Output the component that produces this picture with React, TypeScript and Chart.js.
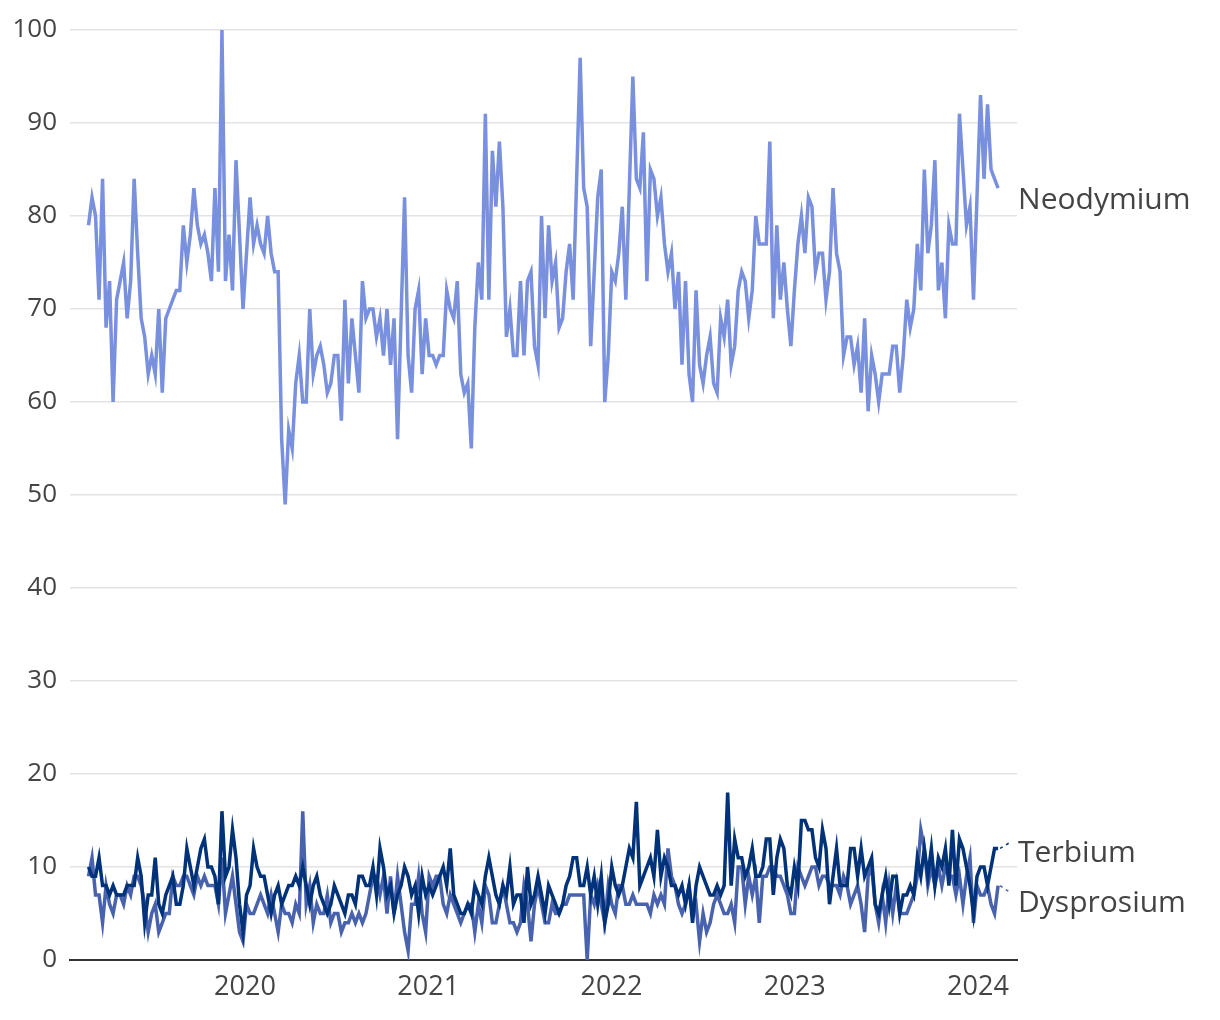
import { useEffect, useRef } from "react";
import { Chart, registerables } from "chart.js";

Chart.register(...registerables);

// Weekly observations, starting late February 2019 (decimal years on the x axis)
const START_YEAR = 2019.146;
const WEEK = 7 / 365.25;

const yearTicks = [2020, 2021, 2022, 2023, 2024];
const valueTicks = [0, 10, 20, 30, 40, 50, 60, 70, 80, 90, 100];
const seriesNames = ["Neodymium", "Terbium", "Dysprosium"];
const seriesColors = ["#7890de", "#00327a", "#4862ad"];

const neodymium = [
  79, 82, 80, 71, 84, 68, 73, 60, 71, 73,
  75, 69, 73, 84, 76, 69, 67, 63, 65, 63,
  70, 61, 69, 70, 71, 72, 72, 79, 75, 78,
  83, 79, 77, 78, 76, 73, 83, 74, 100, 73,
  78, 72, 86, 78, 70, 76, 82, 77, 79, 77,
  76, 80, 76, 74, 74, 56, 49, 57, 55, 62,
  65, 60, 60, 70, 63, 65, 66, 64, 61, 62,
  65, 65, 58, 71, 62, 69, 65, 61, 73, 69,
  70, 70, 67, 69, 65, 70, 64, 69, 56, 69,
  82, 65, 61, 70, 72, 63, 69, 65, 65, 64,
  65, 65, 72, 70, 69, 73, 63, 61, 62, 55,
  68, 75, 71, 91, 71, 87, 81, 88, 81, 67,
  70, 65, 65, 73, 65, 73, 74, 66, 64, 80,
  69, 79, 73, 75, 68, 69, 74, 77, 71, 84,
  97, 83, 81, 66, 74, 82, 85, 60, 65, 74,
  73, 76, 81, 71, 83, 95, 84, 83, 89, 73,
  85, 84, 80, 82, 77, 74, 76, 70, 74, 64,
  73, 63, 60, 72, 64, 62, 65, 67, 62, 61,
  69, 67, 71, 64, 66, 72, 74, 73, 69, 72,
  80, 77, 77, 77, 88, 69, 79, 71, 75, 70,
  66, 72, 77, 80, 76, 82, 81, 74, 76, 76,
  71, 74, 83, 76, 74, 65, 67, 67, 64, 66,
  61, 69, 59, 65, 63, 60, 63, 63, 63, 66,
  66, 61, 65, 71, 68, 70, 77, 72, 85, 76,
  79, 86, 72, 75, 69, 79, 77, 77, 91, 85,
  79, 81, 71, 82, 93, 84, 92, 85, 84, 83,
];

const terbium = [
  10, 9, 9, 11, 8, 8, 7, 8, 7, 7,
  7, 8, 8, 8, 11, 9, 4, 7, 7, 11,
  6, 5, 7, 8, 9, 6, 6, 8, 12, 10,
  8, 10, 12, 13, 10, 10, 9, 6, 16, 9,
  10, 14, 11, 6, 3, 7, 8, 12, 10, 9,
  9, 7, 5, 7, 8, 6, 7, 8, 8, 9,
  8, 10, 8, 6, 8, 9, 7, 6, 5, 6,
  8, 7, 6, 5, 7, 7, 6, 9, 9, 8,
  8, 10, 7, 12, 10, 7, 8, 5, 7, 8,
  10, 9, 7, 8, 5, 9, 7, 8, 7, 8,
  9, 10, 8, 12, 7, 6, 5, 5, 6, 5,
  8, 7, 6, 9, 11, 9, 7, 6, 8, 7,
  10, 6, 7, 7, 4, 10, 6, 7, 9, 7,
  5, 8, 7, 6, 5, 6, 8, 9, 11, 11,
  8, 8, 10, 7, 9, 6, 9, 4, 6, 10,
  8, 7, 8, 10, 12, 11, 17, 8, 9, 10,
  11, 9, 14, 9, 11, 10, 8, 8, 7, 8,
  6, 8, 4, 8, 10, 9, 8, 7, 7, 8,
  7, 8, 18, 8, 13, 11, 11, 9, 10, 12,
  9, 9, 10, 13, 13, 7, 11, 13, 12, 8,
  7, 10, 8, 15, 15, 14, 14, 11, 10, 14,
  12, 6, 9, 12, 8, 8, 8, 12, 12, 9,
  12, 9, 10, 11, 6, 5, 7, 9, 6, 9,
  9, 5, 7, 7, 8, 7, 11, 9, 12, 9,
  12, 8, 11, 10, 12, 8, 14, 8, 13, 12,
  10, 8, 5, 9, 10, 10, 8, 10, 12, 12,
];

const dysprosium = [
  9, 11, 7, 7, 4, 8, 6, 5, 7, 7,
  6, 8, 7, 9, 9, 8, 6, 3, 5, 6,
  3, 4, 5, 5, 9, 8, 8, 9, 9, 8,
  7, 9, 8, 9, 8, 8, 8, 6, 11, 5,
  7, 9, 6, 3, 2, 6, 5, 5, 6, 7,
  6, 5, 7, 5, 3, 6, 5, 5, 4, 6,
  5, 16, 6, 8, 4, 6, 5, 5, 7, 4,
  5, 5, 3, 4, 4, 5, 4, 5, 4, 5,
  7, 9, 9, 7, 9, 5, 9, 5, 9, 6,
  3, 1, 6, 6, 9, 5, 3, 9, 8, 9,
  9, 6, 5, 7, 6, 5, 4, 5, 6, 6,
  3, 6, 4, 8, 7, 4, 4, 6, 8, 6,
  4, 4, 3, 4, 8, 6, 2, 6, 8, 6,
  4, 4, 6, 5, 5, 6, 6, 7, 7, 7,
  7, 7, 0, 7, 6, 8, 6, 4, 8, 6,
  5, 8, 8, 6, 6, 7, 6, 6, 6, 6,
  5, 7, 6, 7, 6, 12, 9, 8, 6, 5,
  6, 8, 5, 6, 2, 5, 3, 4, 6, 7,
  6, 5, 5, 6, 4, 10, 10, 6, 9, 7,
  9, 4, 9, 9, 10, 10, 9, 9, 8, 7,
  5, 5, 10, 9, 8, 9, 10, 10, 8, 9,
  9, 8, 8, 8, 7, 9, 8, 6, 7, 8,
  6, 3, 9, 10, 6, 4, 7, 4, 8, 5,
  8, 5, 5, 5, 6, 7, 9, 14, 12, 8,
  10, 8, 10, 8, 10, 9, 9, 7, 9, 6,
  9, 11, 4, 8, 7, 7, 8, 6, 5, 8,
];

const seriesValues = [neodymium, terbium, dysprosium];
const labelNudge = [12, 5, 5];
const FONT = '"Open Sans", "Noto Sans", sans-serif';
const TEXT = "#444444";

const endLabels = {
  id: "endLabels",
  afterDatasetsDraw(chart: any) {
    const ctx = chart.ctx;
    const items = chart.data.datasets.map((ds: any, i: number) => {
      const meta = chart.getDatasetMeta(i);
      const pt = meta.data[meta.data.length - 1];
      return { text: ds.label, color: ds.borderColor, x: pt.x, y: pt.y, ly: pt.y + labelNudge[i], moved: false };
    });
    items.sort((a: any, b: any) => a.y - b.y);
    for (let k = 1; k < items.length; k++) {
      if (items[k].ly - items[k - 1].ly < 50) {
        items[k].ly = items[k - 1].ly + 50;
        items[k].moved = true;
        items[k - 1].moved = true;
      }
    }
    ctx.save();
    for (const it of items) {
      if (it.moved) {
        ctx.strokeStyle = it.color;
        ctx.lineWidth = 1.5;
        ctx.setLineDash([3, 4]);
        ctx.beginPath();
        ctx.moveTo(it.x + 2, it.y);
        ctx.lineTo(it.x + 12, it.ly - 11);
        ctx.stroke();
        ctx.setLineDash([]);
      }
      ctx.fillStyle = TEXT;
      ctx.font = `30px ${FONT}`;
      ctx.textAlign = "left";
      ctx.textBaseline = "middle";
      ctx.fillText(it.text, it.x + 20, it.ly);
    }
    ctx.restore();
  },
};

export default function App() {
  const canvasRef = useRef<HTMLCanvasElement | null>(null);

  useEffect(() => {
    const canvas = canvasRef.current;
    if (!canvas) return;
    const datasets = seriesNames.map((name, s) => ({
      label: name,
      data: seriesValues[s].map((v, i) => ({ x: START_YEAR + i * WEEK, y: v })),
      borderColor: seriesColors[s],
      backgroundColor: seriesColors[s],
      borderWidth: 3.5,
      pointRadius: 0,
      tension: 0,
      fill: false,
    }));
    const chart = new Chart(canvas, {
      type: "line",
      data: { datasets },
      plugins: [endLabels],
      options: {
        animation: false,
        responsive: true,
        maintainAspectRatio: false,
        devicePixelRatio: 1,
        layout: { padding: { top: 30, right: 203, bottom: 0, left: 0 } },
        plugins: {
          legend: { display: false },
          tooltip: { enabled: false },
        },
        scales: {
          x: {
            type: "linear",
            min: 2019.045,
            max: 2024.213,
            afterBuildTicks: (axis: any) => {
              axis.ticks = yearTicks.map((v) => ({ value: v }));
            },
            afterFit: (axis: any) => {
              axis.height = 60;
            },
            grid: { display: false, drawTicks: false },
            border: { display: true, color: "#333333", width: 2 },
            ticks: {
              color: TEXT,
              font: { family: FONT, size: 27 },
              padding: 11,
              maxRotation: 0,
              autoSkip: false,
              callback: (v: any) => String(v),
            },
          },
          y: {
            min: 0,
            max: 100,
            afterBuildTicks: (axis: any) => {
              axis.ticks = valueTicks.map((v) => ({ value: v }));
            },
            afterFit: (axis: any) => {
              axis.width = 70;
            },
            grid: { color: "#e3e3e3", lineWidth: 1.5, drawTicks: false },
            border: { display: false },
            ticks: {
              color: TEXT,
              font: { family: FONT, size: 26 },
              padding: 13,
              callback: (v: any) => String(v),
            },
          },
        },
      },
    });
    return () => chart.destroy();
  }, []);

  return (
    <div style={{ position: "absolute", left: 0, top: 0, width: 1220, height: 1020, background: "#ffffff" }}>
      <canvas ref={canvasRef} />
    </div>
  );
}
